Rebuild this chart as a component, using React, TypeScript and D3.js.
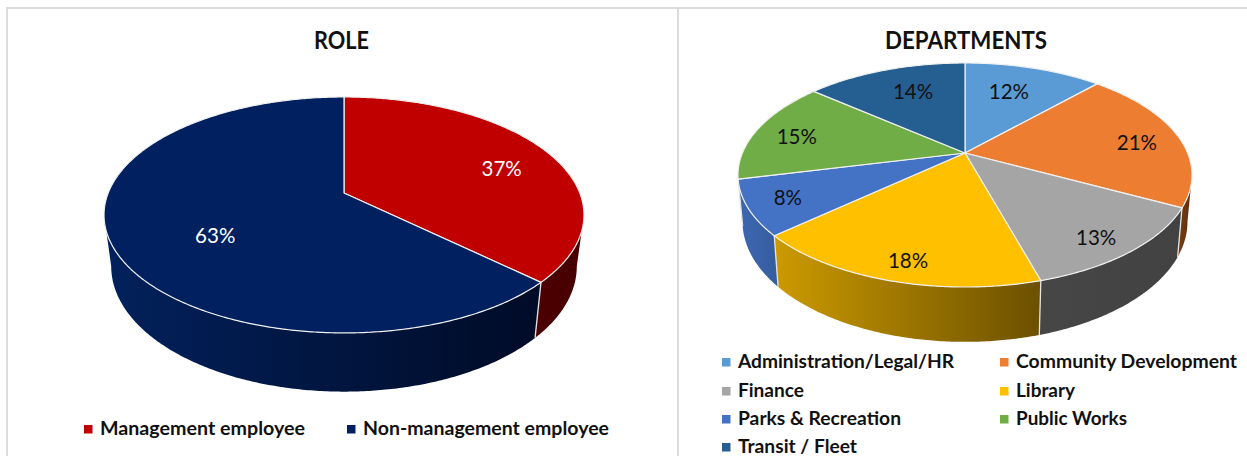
import React from "react";
import * as d3 from "d3";

const roleLabels = ["Management employee", "Non-management employee"];
const roleValues = [37, 63];
const roleText = ["37%", "63%"];

const deptLabels = [
  "Administration/Legal/HR",
  "Community Development",
  "Finance",
  "Library",
  "Parks & Recreation",
  "Public Works",
  "Transit / Fleet",
];
const deptValues = [12, 21, 13, 18, 8, 15, 14];
const deptText = ["12%", "21%", "13%", "18%", "8%", "15%", "14%"];

const FONT = "Lato, 'Open Sans', sans-serif";
const BORDER = "#dcdcdc";

// measured label widths, the source font is narrower than Lato in places
const roleWidths = [205, 246];
const deptWidths = [216, 221, 66, 59, 163, 111, 119];

const rolePie = {
  id: "role",
  cx: 344,
  apexY: 193,
  k: 0.186,
  R: 235.8,
  S: 113.9,
  wallApexY: 243,
  wallS: 121,
  wallScale: 0.97,
  colors: ["#c00000", "#002060"],
  wallColors: [["#4d0000", "#450000"], ["#02215c", "#000b26"]],
  textColor: "#ffffff",
  labelRadius: [0.77, 0.57],
  labelNudge: [[0, 9], [0, 16]],
};

const deptPie = {
  id: "dept",
  cx: 965,
  apexY: 153,
  k: 0.1964,
  R: 222.6,
  S: 107.7,
  wallApexY: 198,
  wallS: 115.6,
  wallScale: 0.98,
  colors: ["#5b9bd5", "#ed7d31", "#a5a5a5", "#ffc000", "#4472c4", "#70ad47", "#255e91"],
  wallColors: [
    ["#37638a", "#37638a"],
    ["#7a4015", "#5c2c0a"],
    ["#464646", "#424242"],
    ["#cc9a00", "#6b5000"],
    ["#3c68b2", "#375c9f"],
    ["#456b2c", "#456b2c"],
    ["#173a5a", "#173a5a"],
  ],
  textColor: "#111111",
  labelRadius: [0.6, 0.8, 0.8, 0.8, 0.8, 0.8, 0.6],
  labelNudge: [[0, -7], [1, 4], [3, 9], [1, 10], [-7, 2], [-1, 3], [-1, -8]],
};

const path = d3.line();

// perspective disc: angle is clockwise from 12 o'clock, r is 0..1 from the apex
function project(p: any, angle: number, r = 1): [number, number] {
  const u = Math.sin(angle) * r;
  const v = -Math.cos(angle) * r;
  const d = 1 - p.k * v;
  return [p.cx + (p.R * u) / d, p.apexY + (p.S * v) / d];
}

function projectWall(p: any, angle: number): [number, number] {
  const u = Math.sin(angle);
  const v = -Math.cos(angle);
  const d = 1 - p.k * v;
  return [p.cx + (p.wallScale * p.R * u) / d, p.wallApexY + (p.wallS * v) / d];
}

function arcAngles(a0: number, a1: number) {
  const n = Math.max(2, Math.ceil((a1 - a0) / 0.01));
  return d3.range(n + 1).map((i) => a0 + ((a1 - a0) * i) / n);
}

function Pie3D({ cfg, values, text }: any) {
  const arcs = d3.pie<number>().sort(null)(values);
  const minA = Math.acos(-cfg.k);
  const maxA = 2 * Math.PI - minA;

  return (
    <g>
      <defs>
        {cfg.wallColors.map((c: string[], i: number) => (
          <linearGradient key={i} id={`${cfg.id}-wall-${i}`}>
            <stop offset="0%" stopColor={c[0]} />
            <stop offset="100%" stopColor={c[1]} />
          </linearGradient>
        ))}
      </defs>
      {arcs.map((a, i) => {
        const a0 = Math.max(a.startAngle, minA);
        const a1 = Math.min(a.endAngle, maxA);
        if (a1 <= a0) return null;
        const angles = arcAngles(a0, a1);
        const pts = [
          ...angles.map((t) => project(cfg, t)),
          ...angles.slice().reverse().map((t) => projectWall(cfg, t)),
        ];
        return <path key={i} d={path(pts) + "Z"} fill={`url(#${cfg.id}-wall-${i})`} />;
      })}
      {arcs.map((a, i) => {
        const t = a.endAngle;
        if (t <= minA || t >= maxA) return null;
        return (
          <path
            key={i}
            d={path([project(cfg, t), projectWall(cfg, t)]) as string}
            stroke="#e4e4e4"
            strokeWidth={1.3}
            fill="none"
          />
        );
      })}
      {arcs.map((a, i) => {
        const pts = [
          project(cfg, 0, 0),
          ...arcAngles(a.startAngle, a.endAngle).map((t) => project(cfg, t)),
        ];
        return (
          <path
            key={i}
            d={path(pts) + "Z"}
            fill={cfg.colors[i]}
            stroke="#f0f0f0"
            strokeWidth={1.2}
            strokeLinejoin="round"
          />
        );
      })}
      {arcs.map((a, i) => {
        const [x, y] = project(cfg, (a.startAngle + a.endAngle) / 2, cfg.labelRadius[i]);
        return (
          <text
            key={i}
            x={x + cfg.labelNudge[i][0]}
            y={y + cfg.labelNudge[i][1]}
            dy="0.35em"
            textAnchor="middle"
            fontFamily={FONT}
            fontSize={20.5}
            fill={cfg.textColor}
          >
            {text[i]}
          </text>
        );
      })}
    </g>
  );
}

function Legend({ items, colors, widths, xs, rows }: any) {
  return (
    <g>
      {items.map((label: string, i: number) => {
        const x = xs[i % xs.length];
        const y = rows[Math.floor(i / xs.length)];
        return (
          <g key={label}>
            <rect x={x - 16} y={y - 10} width={8.5} height={8.5} fill={colors[i]} />
            <text
              x={x}
              y={y}
              fontFamily={FONT}
              fontSize={18.5}
              fontWeight={700}
              fill="#111111"
              textLength={widths[i]}
              lengthAdjust="spacingAndGlyphs"
            >
              {label}
            </text>
          </g>
        );
      })}
    </g>
  );
}

export default function App() {
  return (
    <svg
      width={1247}
      height={456}
      style={{ position: "fixed", left: 0, top: 0, background: "#ffffff" }}
    >
      <line x1={6} x2={1247} y1={8} y2={8} stroke={BORDER} strokeWidth={2} />
      <line x1={7} x2={7} y1={8} y2={456} stroke={BORDER} strokeWidth={2} />
      <line x1={678} x2={678} y1={8} y2={456} stroke={BORDER} strokeWidth={2} />

      <text
        x={314}
        y={49}
        fontFamily={FONT}
        fontSize={24}
        fontWeight={700}
        fill="#111111"
        textLength={55}
        lengthAdjust="spacingAndGlyphs"
      >
        ROLE
      </text>
      <text
        x={885}
        y={49}
        fontFamily={FONT}
        fontSize={24}
        fontWeight={700}
        fill="#111111"
        textLength={162}
        lengthAdjust="spacingAndGlyphs"
      >
        DEPARTMENTS
      </text>

      <Pie3D cfg={rolePie} values={roleValues} text={roleText} />
      <Pie3D cfg={deptPie} values={deptValues} text={deptText} />

      <Legend items={roleLabels} colors={rolePie.colors} widths={roleWidths} xs={[100, 363]} rows={[435]} />
      <Legend items={deptLabels} colors={deptPie.colors} widths={deptWidths} xs={[738, 1016]} rows={[368, 397, 425, 453]} />
    </svg>
  );
}
